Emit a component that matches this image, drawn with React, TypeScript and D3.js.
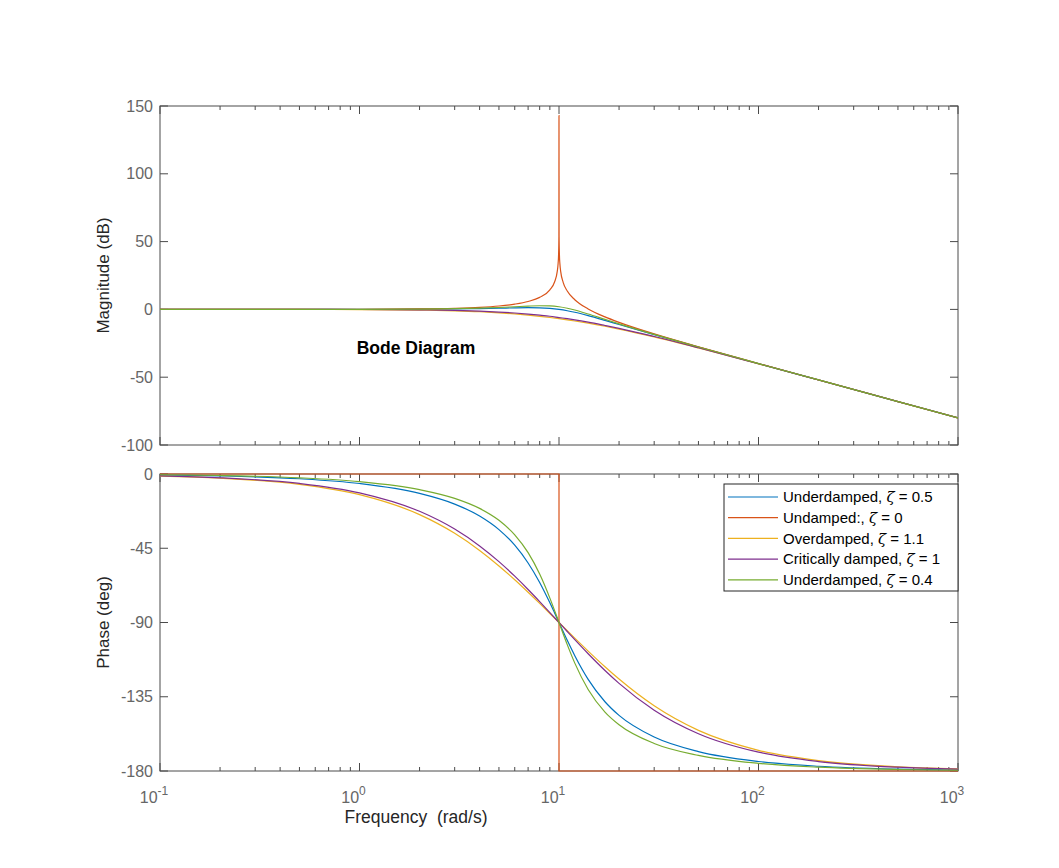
import * as d3 from 'd3';

// frequencies (rad/s) shared by the damped curves
const freqs = [0.1, 0.2, 0.5, 1, 2, 3, 4, 5, 6, 7, 8, 9, 10, 11, 12, 14, 17, 20, 30, 50, 100, 200, 500, 1000];

// magnitude (dB)
const magZ05 = [0, 0, 0.02, 0.04, 0.17, 0.37, 0.63, 0.9, 1.14, 1.25, 1.14, 0.73, 0, -0.98, -2.13, -4.6, -8.1, -11.14, -18.63, -27.79, -39.96, -52.03, -67.96, -80];
const magZ04 = [0, 0, 0.01, 0.06, 0.24, 0.53, 0.93, 1.41, 1.94, 2.41, 2.68, 2.56, 1.94, 0.87, -0.47, -3.38, -7.34, -10.63, -18.44, -27.72, -39.94, -52.02, -67.96, -80];
const magZ11 = [0, -0.01, -0.03, -0.12, -0.47, -1.02, -1.7, -2.49, -3.33, -4.2, -5.09, -5.97, -6.85, -7.71, -8.55, -10.17, -12.45, -14.53, -20.32, -28.43, -40.12, -52.07, -67.97, -80];
const magZ1 = [0, 0, -0.02, -0.09, -0.34, -0.75, -1.29, -1.94, -2.67, -3.44, -4.25, -5.06, -6.02, -6.87, -7.73, -9.44, -11.87, -13.98, -20, -28.3, -40.09, -52.06, -67.97, -80];

// undamped magnitude needs more points round the resonance
const freqsZ0 = [0.1, 0.2, 0.5, 1, 2, 3, 4, 5, 6, 7, 8, 9, 9.5, 9.8, 9.9, 9.95, 9.99, 10, 10.01, 10.05, 10.1, 10.2, 10.5, 11, 12, 14, 17, 20, 30, 50, 100, 200, 500, 1000];
const magZ0 = [0, 0, 0.02, 0.09, 0.35, 0.82, 1.51, 2.5, 3.88, 5.85, 8.87, 14.42, 20.22, 28.05, 34.02, 40.02, 53.98, 143, 53.97, 39.98, 33.94, 27.87, 19.79, 13.56, 7.13, 0.35, -5.53, -9.54, -18.06, -27.6, -39.91, -52.02, -67.96, -80];

// phase (deg)
const phZ05 = [-0.57, -1.15, -2.87, -5.77, -11.77, -18.24, -25.46, -33.69, -43.15, -53.93, -65.77, -78.08, -90, -100.81, -110.14, -124.44, -138.02, -146.31, -159.44, -168.23, -174.23, -177.13, -178.85, -179.43];
const phZ04 = [-0.46, -0.92, -2.3, -4.62, -9.46, -14.77, -20.85, -28.07, -36.87, -47.67, -60.64, -75.22, -90, -103.42, -114.62, -130.6, -144.26, -151.93, -163.3, -170.54, -175.38, -177.7, -179.08, -179.54];
const phZ11 = [-1.26, -2.52, -6.29, -12.53, -24.62, -35.95, -46.33, -55.71, -64.13, -71.68, -78.44, -84.52, -90, -94.96, -99.46, -107.31, -116.81, -124.29, -140.48, -155.38, -167.47, -173.71, -177.48, -178.74];
const phZ1 = [-1.15, -2.29, -5.72, -11.42, -22.62, -33.4, -43.6, -53.13, -61.93, -69.98, -77.32, -83.97, -90, -95.45, -100.39, -108.92, -119.07, -126.87, -143.13, -157.38, -168.58, -174.28, -177.71, -178.85];
const freqsPhZ0 = [0.1, 10, 10, 1000];
const phZ0 = [0, 0, -180, -180];

const seriesNames = ['Underdamped, ', 'Undamped:, ', 'Overdamped, ', 'Critically damped, ', 'Underdamped, '];
const zetaLabels = ['0.5', '0', '1.1', '1', '0.4'];
const colors = ['#0072BD', '#D95319', '#EDB120', '#7E2F8E', '#77AC30'];

const magTicks = [150, 100, 50, 0, -50, -100];
const phaseTicks = [0, -45, -90, -135, -180];
const decades = [0.1, 1, 10, 100, 1000];
const decadeExp = ['-1', '0', '1', '2', '3'];

const W = 1059, H = 868;
const left = 160, right = 958;
const magTop = 106, magBottom = 445;
const phTop = 474, phBottom = 771;
const FONT = '"Liberation Sans", Arial, Helvetica, sans-serif';
const AXIS = '#4a4a4a';
const TICKTXT = '#666666';

const x = d3.scaleLog().domain([0.1, 1000]).range([left, right]);
const yMag = d3.scaleLinear().domain([-100, 150]).range([magBottom, magTop]);
const yPh = d3.scaleLinear().domain([-180, 0]).range([phBottom, phTop]);

const minorTicks: number[] = [];
decades.slice(0, 4).forEach(d => { for (let k = 2; k <= 9; k++) minorTicks.push(d * k); });

function linePath(fs: number[], vs: number[], y: d3.ScaleLinear<number, number>, linear = false) {
  const pts = fs.map((f, i) => [f, vs[i]] as [number, number]);
  const gen = d3.line<[number, number]>()
    .x(d => x(d[0]))
    .y(d => y(d[1]))
    .curve(linear ? d3.curveLinear : d3.curveMonotoneX);
  return gen(pts) || '';
}

function Frame({ top, bottom, y, ticks, showX }: { top: number; bottom: number; y: d3.ScaleLinear<number, number>; ticks: number[]; showX: boolean }) {
  return (
    <g>
      <rect x={left} y={top} width={right - left} height={bottom - top} fill="none" stroke={AXIS} strokeWidth={1} />
      {decades.map(d => (
        <g key={'M' + d}>
          <line x1={x(d)} x2={x(d)} y1={bottom} y2={bottom - 8} stroke={AXIS} />
          <line x1={x(d)} x2={x(d)} y1={top} y2={top + 8} stroke={AXIS} />
        </g>
      ))}
      {minorTicks.map(d => (
        <g key={'m' + d}>
          <line x1={x(d)} x2={x(d)} y1={bottom} y2={bottom - 4} stroke={AXIS} />
          <line x1={x(d)} x2={x(d)} y1={top} y2={top + 4} stroke={AXIS} />
        </g>
      ))}
      {ticks.map(t => (
        <g key={'y' + t}>
          <line x1={left} x2={left + 8} y1={y(t)} y2={y(t)} stroke={AXIS} />
          <line x1={right} x2={right - 8} y1={y(t)} y2={y(t)} stroke={AXIS} />
          <text x={left - 7} y={y(t)} dy="0.35em" textAnchor="end" fontSize={16} fill={TICKTXT}>{t}</text>
        </g>
      ))}
      {showX && decades.map((d, i) => (
        <text key={'xl' + d} x={x(d) - 6} y={bottom + 32} textAnchor="middle" fontSize={16} fill={TICKTXT}>
          10<tspan dy={-8} fontSize={12}>{decadeExp[i]}</tspan>
        </text>
      ))}
    </g>
  );
}

export default function App() {
  const magSeries = [
    { f: freqs, v: magZ05 },
    { f: freqsZ0, v: magZ0 },
    { f: freqs, v: magZ11 },
    { f: freqs, v: magZ1 },
    { f: freqs, v: magZ04 },
  ];
  const phSeries = [
    { f: freqs, v: phZ05, lin: false },
    { f: freqsPhZ0, v: phZ0, lin: true },
    { f: freqs, v: phZ11, lin: false },
    { f: freqs, v: phZ1, lin: false },
    { f: freqs, v: phZ04, lin: false },
  ];
  const legX = 724, legY = 484, legW = 234, legH = 107;
  return (
    <div style={{ position: 'absolute', left: 0, top: 0 }}>
      <svg width={W} height={H} style={{ display: 'block', background: '#fff', fontFamily: FONT }}>
        <defs>
          <clipPath id="magClip"><rect x={left} y={magTop} width={right - left} height={magBottom - magTop} /></clipPath>
          <clipPath id="phClip"><rect x={left} y={phTop - 2} width={right - left} height={phBottom - phTop + 4} /></clipPath>
        </defs>

        <Frame top={magTop} bottom={magBottom} y={yMag} ticks={magTicks} showX={false} />
        <Frame top={phTop} bottom={phBottom} y={yPh} ticks={phaseTicks} showX={true} />

        <g clipPath="url(#magClip)">
          {magSeries.map((s, i) => (
            <path key={'mag' + i} d={linePath(s.f, s.v, yMag)} fill="none" stroke={colors[i]} strokeWidth={1.2} />
          ))}
        </g>
        <g clipPath="url(#phClip)">
          {phSeries.map((s, i) => (
            <path key={'ph' + i} d={linePath(s.f, s.v, yPh, s.lin)} fill="none" stroke={colors[i]} strokeWidth={1.2} />
          ))}
        </g>

        <text x={416} y={348} textAnchor="middle" dy="0.35em" fontSize={17.5} fontWeight="bold" fill="#000">Bode Diagram</text>

        <text transform={`translate(109,${(magTop + magBottom) / 2}) rotate(-90)`} textAnchor="middle" fontSize={17} fill="#262626">Magnitude (dB)</text>
        <text transform={`translate(109,${(phTop + phBottom) / 2}) rotate(-90)`} textAnchor="middle" fontSize={17} fill="#262626">Phase (deg)</text>
        <text x={416} y={823} textAnchor="middle" fontSize={17.5} fill="#262626" style={{ whiteSpace: 'pre' }}>{'Frequency  (rad/s)'}</text>

        <g>
          <rect x={legX} y={legY} width={legW} height={legH} fill="#fff" stroke="#262626" strokeWidth={1} />
          {seriesNames.map((n, i) => {
            const ry = 497 + i * 20.7;
            return (
              <g key={'leg' + i}>
                <line x1={728} x2={778} y1={ry} y2={ry} stroke={colors[i]} strokeWidth={1.2} />
                <text x={783} y={ry} dy="0.35em" fontSize={15} fill="#000">
                  {n}<tspan fontStyle="italic" fontFamily='"DejaVu Serif", serif'>ζ</tspan>{' = ' + zetaLabels[i]}
                </text>
              </g>
            );
          })}
        </g>
      </svg>
    </div>
  );
}
